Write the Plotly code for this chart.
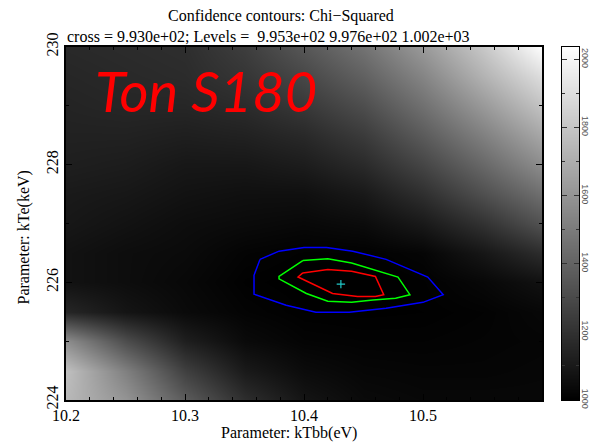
import plotly.graph_objects as go

# Chi-squared surface sampled on a kTbb x kTe grid
ktbb = [10.20, 10.25, 10.30, 10.35, 10.40, 10.45, 10.50, 10.55, 10.60]
kte = [224.0, 224.5, 225.0, 225.5, 226.0, 226.5, 227.0, 227.5,
       228.0, 228.5, 229.0, 229.5, 230.0]
chisq = [
    [1746, 1601, 1373, 1186, 1083, 1040, 1030, 1030, 1030],
    [1777, 1518, 1259, 1104, 1045, 1025, 1020, 1020, 1025],
    [1570, 1311, 1124, 1040, 1015, 1010, 1010, 1015, 1020],
    [1155, 1083, 1041, 1015, 1002, 1000, 1002, 1010, 1030],
    [1073, 1052, 1031, 1005,  996,  994, 1005, 1030, 1070],
    [1073, 1052, 1041, 1015, 1005, 1005, 1020, 1090, 1180],
    [1093, 1073, 1052, 1041, 1031, 1045, 1100, 1200, 1330],
    [1104, 1093, 1073, 1062, 1062, 1100, 1190, 1320, 1450],
    [1124, 1114, 1093, 1093, 1114, 1170, 1280, 1420, 1570],
    [1135, 1135, 1124, 1135, 1166, 1240, 1370, 1520, 1680],
    [1145, 1155, 1155, 1176, 1228, 1315, 1455, 1620, 1790],
    [1155, 1166, 1176, 1218, 1290, 1394, 1539, 1725, 1900],
    [1166, 1176, 1186, 1249, 1352, 1466, 1622, 1808, 2030],
]
z_min, z_max = 1000, 2036

# Best fit and confidence contour levels
best_ktbb = [10.431]
best_kte = [225.97]
cross_value = 993.0
levels = [995.3, 997.6, 1002.0]

# Contour polylines (level 1: red, level 2: green, level 3: blue)
c1_x = [10.399, 10.420, 10.440, 10.460, 10.467, 10.460, 10.445, 10.424, 10.395, 10.399]
c1_y = [226.16, 226.22, 226.19, 226.10, 225.79, 225.76, 225.76, 225.81, 226.09, 226.16]
c2_x = [10.399, 10.420, 10.440, 10.479, 10.489, 10.477, 10.458, 10.440, 10.420,
        10.402, 10.379, 10.379, 10.399]
c2_y = [226.37, 226.40, 226.33, 226.09, 225.79, 225.73, 225.70, 225.66, 225.68,
        225.81, 226.06, 226.10, 226.37]
c3_x = [10.363, 10.379, 10.400, 10.419, 10.441, 10.469, 10.504, 10.517, 10.500,
        10.469, 10.438, 10.410, 10.385, 10.358, 10.358, 10.363]
c3_y = [226.39, 226.53, 226.59, 226.59, 226.53, 226.39, 226.09, 225.79, 225.66,
        225.56, 225.49, 225.49, 225.61, 225.80, 226.12, 226.39]

x_ticks = [10.2, 10.3, 10.4, 10.5]
y_ticks = [224, 226, 228, 230]
bar_ticks = [1000, 1200, 1400, 1600, 1800, 2000]

W, H = 591, 442
ML, MR, MT, MB = 66, 12, 47, 42
PW, PH = W - ML - MR, H - MT - MB


def px(xp):
    return (xp - ML) / PW


def py(yp):
    return 1 - (yp - MT) / PH


SERIF = "'Liberation Serif', Tinos, 'Times New Roman', 'DejaVu Serif', serif"
SANS = "'Liberation Sans', Arimo, Arial, sans-serif"
gray = [[0, "#000000"], [1, "#ffffff"]]

fig = go.Figure()
fig.add_trace(go.Heatmap(x=ktbb, y=kte, z=chisq, zmin=z_min, zmax=z_max,
                         colorscale=gray, zsmooth="best", showscale=False,
                         hoverinfo="skip"))
for cx, cy, col in [(c3_x, c3_y, "#0000ff"), (c2_x, c2_y, "#00ff00"),
                    (c1_x, c1_y, "#ff0000")]:
    fig.add_trace(go.Scatter(x=cx, y=cy, mode="lines",
                             line=dict(color=col, width=1.5), showlegend=False))
fig.add_trace(go.Scatter(x=best_ktbb, y=best_kte, mode="markers",
                         marker=dict(symbol="cross-thin", size=6,
                                     line=dict(color="#20c8c8", width=1.2)),
                         showlegend=False))

# Colour bar drawn as a narrow gradient panel
fig.add_trace(go.Heatmap(x=[0], y=[z_min, z_max], z=[[z_min], [z_max]],
                         zmin=z_min, zmax=z_max, colorscale=gray, zsmooth="best",
                         showscale=False, xaxis="x2", yaxis="y2", hoverinfo="skip"))

axis_common = dict(showline=True, linecolor="black", mirror="allticks",
                   ticks="inside", tickcolor="black", showgrid=False,
                   zeroline=False, automargin=False)

fig.update_layout(
    width=W, height=H, margin=dict(l=ML, r=MR, t=MT, b=MB, autoexpand=False),
    paper_bgcolor="white", plot_bgcolor="black", showlegend=False,
    font=dict(family=SERIF, size=16, color="black"),
    xaxis=dict(domain=[0, 476 / PW], range=[10.2, 10.6], tickvals=x_ticks,
               ticktext=[f"{v:.1f}" for v in x_ticks], ticklen=6, tickwidth=1,
               linewidth=1.5,
               minor=dict(dtick=0.02, ticks="inside", ticklen=3, tickcolor="black"),
               tickfont=dict(family=SERIF, size=16), **axis_common),
    yaxis=dict(range=[224, 230], tickvals=y_ticks, ticklen=6, tickwidth=1,
               linewidth=1.5, tickangle=-90,
               minor=dict(dtick=1, ticks="inside", ticklen=3, tickcolor="black"),
               tickfont=dict(family=SERIF, size=16), **axis_common),
    xaxis2=dict(domain=[(562 - ML) / PW, 1], range=[-0.5, 0.5], showticklabels=False,
                showline=True, linecolor="black", linewidth=1, mirror=True,
                ticks="", showgrid=False, zeroline=False, automargin=False),
    yaxis2=dict(anchor="x2", side="right", range=[z_min, z_max], tickvals=bar_ticks,
                ticklen=5, tickwidth=1, tickangle=90, showline=True,
                linecolor="black", linewidth=1, mirror="allticks", ticks="inside",
                tickcolor="#333333", showgrid=False, zeroline=False, automargin=False,
                ticklabelstandoff=-2,
                minor=dict(dtick=100, ticks="inside", ticklen=3, tickcolor="#333333"),
                tickfont=dict(family=SANS, size=9, color="#555555")),
)

levels_text = " ".join(f"{v:.3e}" for v in levels)
annotations = [
    dict(text="Confidence contours: Chi\u2212Squared", x=px(166), y=py(16.5),
         xanchor="left", yanchor="middle", font=dict(family=SERIF, size=16)),
    dict(text=f"cross = {cross_value:.3e}; Levels =  {levels_text}", x=px(65), y=py(36),
         xanchor="left", yanchor="middle", font=dict(family=SERIF, size=16)),
    dict(text="Parameter: kTbb(eV)", x=px(289), y=py(433), xanchor="center",
         yanchor="middle", font=dict(family=SERIF, size=16)),
    dict(text="Parameter: kTe(keV)", x=px(23), y=py(237.5), xanchor="center",
         yanchor="middle", textangle=-90, font=dict(family=SERIF, size=16)),
    dict(text="<i>Ton S180</i>", x=px(93), y=py(90), xanchor="left", yanchor="middle",
         font=dict(family="Lato", size=56, color="#ff0000")),
]
for a in annotations:
    a.update(xref="paper", yref="paper", showarrow=False)
fig.update_layout(annotations=annotations)

fig.write_html("out.html")
